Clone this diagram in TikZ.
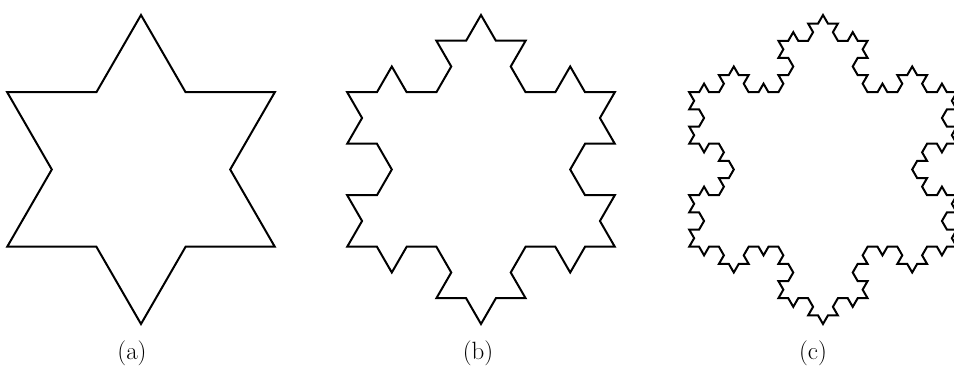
\documentclass[tikz,border=0pt]{standalone}
\usetikzlibrary{lindenmayersystems}
\pgfdeclarelindenmayersystem{Koch}{\rule{F -> F-F++F-F}}
\begin{document}
\begin{tikzpicture}[x=1pt,y=1pt,
  koch/.style={line width=2pt, line join=miter, black},
  lab/.style={anchor=base, inner sep=0pt, font=\fontsize{25}{25}\selectfont}]
\useasboundingbox (0,0) rectangle (954,367);
\clip (0,0) rectangle (954,367);
\begin{scope}[shift={(7.2,120.25)}]
  \draw[koch, l-system={Koch, axiom=F++F++F++F, order=1, step=89.2pt, angle=60}] l-system;
\end{scope}
\begin{scope}[shift={(347.2,120.25)}]
  \draw[koch, l-system={Koch, axiom=F++F++F++F, order=2, step=29.733pt, angle=60}] l-system;
\end{scope}
\begin{scope}[shift={(689.2,120.25)}]
  \draw[koch, l-system={Koch, axiom=F++F++F++F, order=3, step=9.911pt, angle=60}] l-system;
\end{scope}
\node[lab] (la) at (132,7) {(a)};
\node[lab] (lb) at (478,7) {(b)};
\node[lab] (lc) at (813,7) {(c)};
\end{tikzpicture}
\end{document}
